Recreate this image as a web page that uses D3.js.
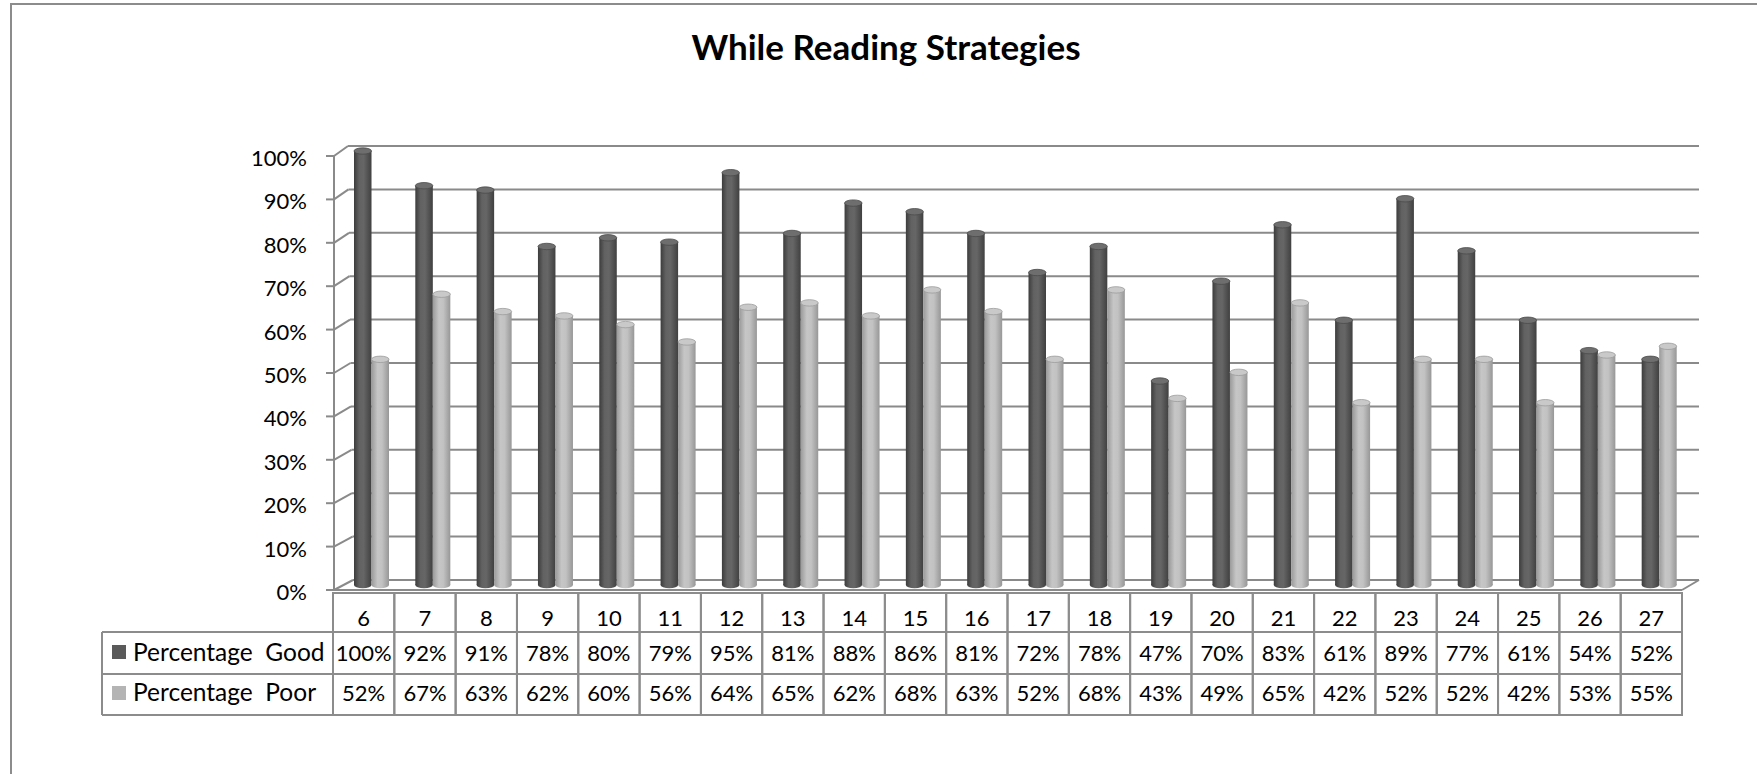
<!DOCTYPE html>
<html>
<head>
<meta charset="utf-8">
<script src="https://cdn.jsdelivr.net/npm/d3@7"></script>
<style>
html,body{margin:0;padding:0;background:#fff;}
svg{display:block;}
text{font-family:Lato, "Open Sans", sans-serif;fill:#000;}
</style>
</head>
<body>
<svg id="chart" width="1757" height="774"></svg>
<script>
const title = "While Reading Strategies";
const categories = ["6","7","8","9","10","11","12","13","14","15","16","17","18","19","20","21","22","23","24","25","26","27"];
const seriesNames = ["Percentage  Good", "Percentage  Poor"];
const good = [100,92,91,78,80,79,95,81,88,86,81,72,78,47,70,83,61,89,77,61,54,52];
const poor = [52,67,63,62,60,56,64,65,62,68,63,52,68,43,49,65,42,52,52,42,53,55];
const yTicks = [0,10,20,30,40,50,60,70,80,90,100];

const svg = d3.select("#chart");
const W = 1757, H = 774;

// frame
svg.append("path").attr("d", `M11,${H} L11,4 L${W},4`).attr("fill","none").attr("stroke","#8c8c8c").attr("stroke-width",2);

// title
svg.append("text").attr("x", 886).attr("y", 60).attr("text-anchor","middle")
  .style("font-weight","bold").style("font-size","35px").text(title);

// geometry
const frontL = 333, frontR = 1682;
const DX = 16, DY = -10;
const x = d3.scaleBand().domain(categories).range([frontL, frontR]).paddingInner(0).paddingOuter(0);
const yF = d3.scaleLinear().domain([0,100]).range([590, 156]);
const yB = v => yF(v) + DY;
const xBackLeft = v => 348 + (353 - 348) * (1 - v/100);
const backR = frontR + DX + 1;

const grid = svg.append("g");
const gridColor = "#8a8a8a";
yTicks.forEach(v => {
  grid.append("line").attr("x1", xBackLeft(v)).attr("x2", backR).attr("y1", yB(v)).attr("y2", yB(v))
    .attr("stroke", gridColor).attr("stroke-width", 2);
  grid.append("line").attr("x1", 326).attr("x2", 334).attr("y1", yF(v)).attr("y2", yF(v))
    .attr("stroke", gridColor).attr("stroke-width", 2);
  grid.append("line").attr("x1", 334).attr("x2", xBackLeft(v)).attr("y1", yF(v)).attr("y2", yB(v))
    .attr("stroke", gridColor).attr("stroke-width", 2);
});
grid.append("line").attr("x1", 334).attr("x2", 334).attr("y1", yF(100)).attr("y2", yF(0))
  .attr("stroke", gridColor).attr("stroke-width", 2);
grid.append("line").attr("x1", frontL).attr("x2", frontR).attr("y1", yF(0)).attr("y2", yF(0))
  .attr("stroke", gridColor).attr("stroke-width", 2);
grid.append("line").attr("x1", frontR).attr("x2", backR).attr("y1", yF(0)).attr("y2", yB(0))
  .attr("stroke", gridColor).attr("stroke-width", 2);

// y labels
svg.append("g").selectAll("text").data(yTicks).join("text")
  .attr("x", 307).attr("y", d => yF(d) + 10).attr("text-anchor","end")
  .style("font-size","22px").text(d => d + "%");

// gradients
const defs = svg.append("defs");
function grad(id, stops){
  const g = defs.append("linearGradient").attr("id", id).attr("x1","0%").attr("x2","100%").attr("y1","0%").attr("y2","0%");
  stops.forEach(s => g.append("stop").attr("offset", s[0]).attr("stop-color", s[1]));
}
grad("gDark", [["0%","#3c3c3c"],["30%","#626262"],["55%","#666666"],["100%","#404040"]]);
grad("gLight", [["0%","#9a9a9a"],["35%","#c6c6c6"],["60%","#c2c2c2"],["100%","#979797"]]);
const topFill = ["#6e6e6e", "#c9c9c9"];
const topStroke = ["#4a4a4a", "#9c9c9c"];

// bars
const inner = d3.scaleBand().domain([0,1]).range([21, 56]).padding(0);
const bw = inner.bandwidth();
const ry = 3.2;
const series = [good, poor];
const bars = svg.append("g");
series.forEach((vals, s) => {
  const g = bars.append("g");
  vals.forEach((v, i) => {
    const x0 = x(categories[i]) + inner(s) - 13 + DX/2 + 5;
    const yTop = yF(v) + DY/2;
    const yBot = yF(0) + DY/2;
    const fill = s === 0 ? "url(#gDark)" : "url(#gLight)";
    g.append("ellipse").attr("cx", x0 + bw/2).attr("cy", yBot).attr("rx", bw/2).attr("ry", ry).attr("fill", fill);
    g.append("rect").attr("x", x0).attr("y", yTop).attr("width", bw).attr("height", yBot - yTop).attr("fill", fill);
    g.append("ellipse").attr("cx", x0 + bw/2).attr("cy", yTop).attr("rx", bw/2).attr("ry", ry)
      .attr("fill", topFill[s]).attr("stroke", topStroke[s]).attr("stroke-width", 0.8);
  });
});

// data table
const tb = svg.append("g");
const tColor = "#8c8c8c";
const rowTop = [593, 632, 674, 715];
const legendL = 102;
categories.forEach((c, i) => {
  const cx = x(c);
  tb.append("rect").attr("x", cx).attr("y", rowTop[0]).attr("width", x.bandwidth()).attr("height", rowTop[3]-rowTop[0])
    .attr("fill","none").attr("stroke", tColor).attr("stroke-width", 2);
  tb.append("text").attr("x", cx + x.bandwidth()/2).attr("y", 626).attr("text-anchor","middle")
    .style("font-size","22px").text(c);
  tb.append("text").attr("x", cx + x.bandwidth()/2).attr("y", 661).attr("text-anchor","middle")
    .style("font-size","22px").text(good[i] + "%");
  tb.append("text").attr("x", cx + x.bandwidth()/2).attr("y", 701).attr("text-anchor","middle")
    .style("font-size","22px").text(poor[i] + "%");
});
[rowTop[1], rowTop[2], rowTop[3]].forEach(y => {
  tb.append("line").attr("x1", legendL).attr("x2", frontR).attr("y1", y).attr("y2", y).attr("stroke", tColor).attr("stroke-width", 2);
});
tb.append("line").attr("x1", legendL).attr("x2", legendL).attr("y1", rowTop[1]).attr("y2", rowTop[3]).attr("stroke", tColor).attr("stroke-width", 2);
// legend
const legColors = ["#5a5a5a", "#b4b4b4"];
seriesNames.forEach((n, s) => {
  const yy = s === 0 ? 645 : 686;
  tb.append("rect").attr("x", 112).attr("y", yy).attr("width", 14).attr("height", 14).attr("fill", legColors[s]);
  tb.append("text").attr("x", 133).attr("y", s === 0 ? 661 : 701).style("font-size","24.5px")
    .attr("xml:space","preserve").style("white-space","pre").text(n);
});
</script>
</body>
</html>
